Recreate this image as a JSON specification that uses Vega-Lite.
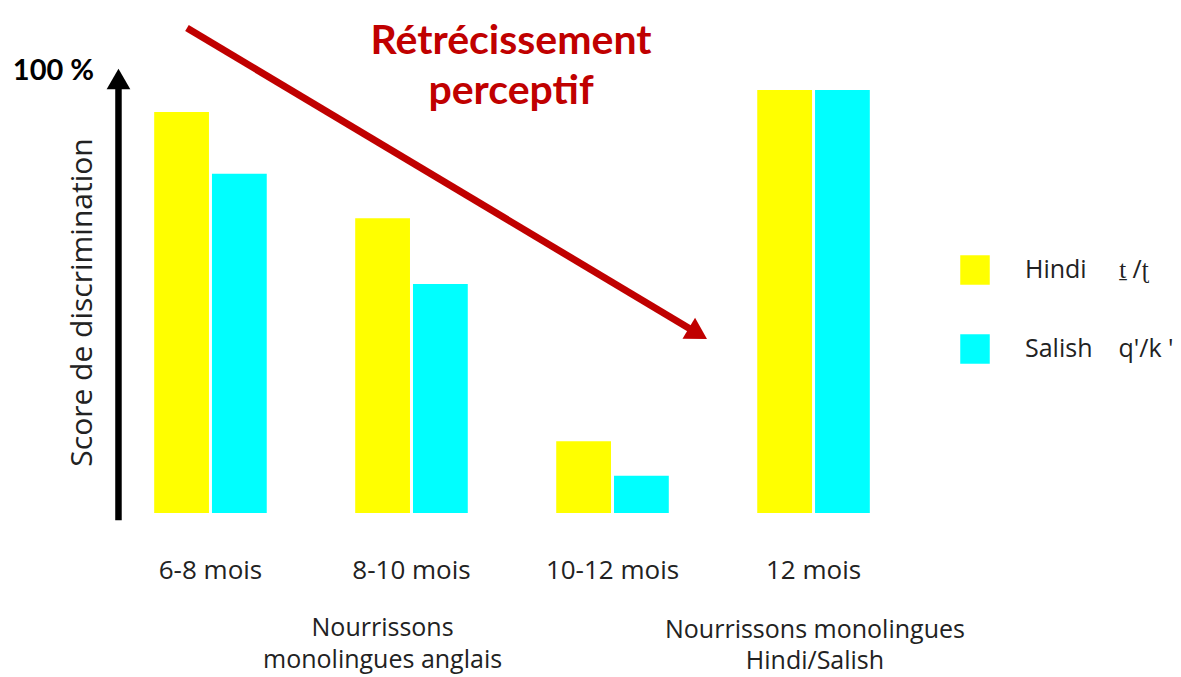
{
  "$schema": "https://vega.github.io/schema/vega-lite/v6.json",
  "autosize": "none",
  "width": 788,
  "height": 448,
  "padding": {"left": 118, "top": 65, "right": 275, "bottom": 164},
  "background": "white",
  "config": {"view": {"stroke": null}, "font": "Open Sans"},
  "resolve": {"scale": {"x": "independent", "y": "independent", "color": "independent"}},
  "layer": [
    {
      "data": {"values": [
        {"groupe": "6-8 mois", "langue": "Hindi\u00a0\u00a0\u00a0\u00a0\u00a0ṯ /ʈ", "score": 89.5},
        {"groupe": "6-8 mois", "langue": "\u00a0Salish\u00a0\u00a0\u00a0\u00a0q'/k '", "score": 75.7},
        {"groupe": "8-10 mois", "langue": "Hindi\u00a0\u00a0\u00a0\u00a0\u00a0ṯ /ʈ", "score": 65.8},
        {"groupe": "8-10 mois", "langue": "\u00a0Salish\u00a0\u00a0\u00a0\u00a0q'/k '", "score": 51.1},
        {"groupe": "10-12 mois", "langue": "Hindi\u00a0\u00a0\u00a0\u00a0\u00a0ṯ /ʈ", "score": 16.0},
        {"groupe": "10-12 mois", "langue": "\u00a0Salish\u00a0\u00a0\u00a0\u00a0q'/k '", "score": 8.3},
        {"groupe": "12 mois", "langue": "Hindi\u00a0\u00a0\u00a0\u00a0\u00a0ṯ /ʈ", "score": 94.4},
        {"groupe": "12 mois", "langue": "\u00a0Salish\u00a0\u00a0\u00a0\u00a0q'/k '", "score": 94.4}
      ]},
      "mark": {"type": "bar"},
      "encoding": {
        "x": {
          "field": "groupe", "type": "nominal", "sort": null,
          "scale": {"paddingInner": 0.44, "paddingOuter": 0.18},
          "axis": {"title": null, "domain": false, "ticks": false, "tickSize": 0, "labelFont": "Open Sans", "labelFontSize": 26, "labelColor": "#222", "labelPadding": 65, "labelBaseline": "alphabetic", "labelAngle": 0}
        },
        "xOffset": {"field": "langue", "type": "nominal", "sort": null, "scale": {"paddingInner": 0.052}},
        "y": {
          "field": "score", "type": "quantitative",
          "scale": {"domain": [0, 100], "nice": false, "zero": true},
          "axis": {"title": "Score de discrimination", "domain": false, "ticks": false, "labels": false, "grid": false, "titleFont": "Open Sans", "titleFontSize": 30, "titleFontWeight": "normal", "titleColor": "#222", "titleAngle": 270, "titleX": -27, "titleY": 237, "titleAlign": "center", "titleBaseline": "alphabetic"}
        },
        "color": {
          "field": "langue", "type": "nominal", "sort": null,
          "scale": {"range": ["#FFFF00", "#00FFFF"]},
          "legend": {"title": null, "orient": "none", "legendX": 842, "legendY": 190, "symbolType": "square", "symbolSize": 870, "symbolStrokeWidth": 0, "labelFont": "Open Sans", "labelFontSize": 25, "labelColor": "#222", "labelOffset": 35, "rowPadding": 49, "padding": 0, "labelLimit": 300}
        }
      }
    },
    {
      "data": {"values": [{"x": -0.4577, "y": -1.6, "y2": 95.5}]},
      "mark": {"type": "rule", "color": "black", "strokeWidth": 6.5},
      "encoding": {
        "x": {"field": "x", "type": "quantitative", "scale": {"domain": [-0.4601, 3.4599], "nice": false, "zero": false}, "axis": null},
        "y": {"field": "y", "type": "quantitative", "scale": {"domain": [0, 100], "nice": false, "zero": false}, "axis": null},
        "y2": {"field": "y2"}
      }
    },
    {
      "data": {"values": [{"x": -0.4577, "y": 96.9}]},
      "mark": {"type": "point", "shape": "triangle-up", "size": 560, "filled": true, "opacity": 1, "color": "black"},
      "encoding": {
        "x": {"field": "x", "type": "quantitative", "scale": {"domain": [-0.4601, 3.4599], "nice": false, "zero": false}, "axis": null},
        "y": {"field": "y", "type": "quantitative", "scale": {"domain": [0, 100], "nice": false, "zero": false}, "axis": null}
      }
    },
    {
      "data": {"values": [{"x": -0.117, "y": 108.26}, {"x": 2.395, "y": 40.85}]},
      "mark": {"type": "line", "color": "#C00000", "strokeWidth": 7},
      "encoding": {
        "x": {"field": "x", "type": "quantitative", "scale": {"domain": [-0.4601, 3.4599], "nice": false, "zero": false}, "axis": null},
        "y": {"field": "y", "type": "quantitative", "scale": {"domain": [0, 100], "nice": false, "zero": false}, "axis": null}
      }
    },
    {
      "data": {"values": [{"x": 2.4246, "y": 40.04}]},
      "mark": {"type": "point", "shape": "triangle-right", "size": 600, "angle": 30.9, "filled": true, "opacity": 1, "color": "#C00000"},
      "encoding": {
        "x": {"field": "x", "type": "quantitative", "scale": {"domain": [-0.4601, 3.4599], "nice": false, "zero": false}, "axis": null},
        "y": {"field": "y", "type": "quantitative", "scale": {"domain": [0, 100], "nice": false, "zero": false}, "axis": null}
      }
    },
    {
      "data": {"values": [{"t": "Rétrécissement", "x": 1.495, "y": 102.46}, {"t": "perceptif", "x": 1.495, "y": 91.29}]},
      "mark": {"type": "text", "font": "Lato", "fontSize": 41, "fontWeight": "bold", "color": "#C00000", "align": "center", "baseline": "alphabetic"},
      "encoding": {
        "x": {"field": "x", "type": "quantitative", "scale": {"domain": [-0.4601, 3.4599], "nice": false, "zero": false}, "axis": null},
        "y": {"field": "y", "type": "quantitative", "scale": {"domain": [0, 100], "nice": false, "zero": false}, "axis": null},
        "text": {"field": "t"}
      }
    },
    {
      "data": {"values": [{"t": "100 %", "x": -0.781, "y": 96.65}]},
      "mark": {"type": "text", "font": "Lato", "fontSize": 29, "fontWeight": "bold", "color": "black", "align": "center", "baseline": "alphabetic"},
      "encoding": {
        "x": {"field": "x", "type": "quantitative", "scale": {"domain": [-0.4601, 3.4599], "nice": false, "zero": false}, "axis": null},
        "y": {"field": "y", "type": "quantitative", "scale": {"domain": [0, 100], "nice": false, "zero": false}, "axis": null},
        "text": {"field": "t"}
      }
    },
    {
      "data": {"values": [
        {"t": "Nourrissons", "x": 0.856, "y": -27.5},
        {"t": "monolingues anglais", "x": 0.856, "y": -34.6},
        {"t": "Nourrissons monolingues", "x": 3.007, "y": -27.8},
        {"t": "Hindi/Salish", "x": 3.007, "y": -34.8}
      ]},
      "mark": {"type": "text", "font": "Open Sans", "fontSize": 25, "color": "#222", "align": "center", "baseline": "alphabetic"},
      "encoding": {
        "x": {"field": "x", "type": "quantitative", "scale": {"domain": [-0.4601, 3.4599], "nice": false, "zero": false}, "axis": null},
        "y": {"field": "y", "type": "quantitative", "scale": {"domain": [0, 100], "nice": false, "zero": false}, "axis": null},
        "text": {"field": "t"}
      }
    }
  ]
}
